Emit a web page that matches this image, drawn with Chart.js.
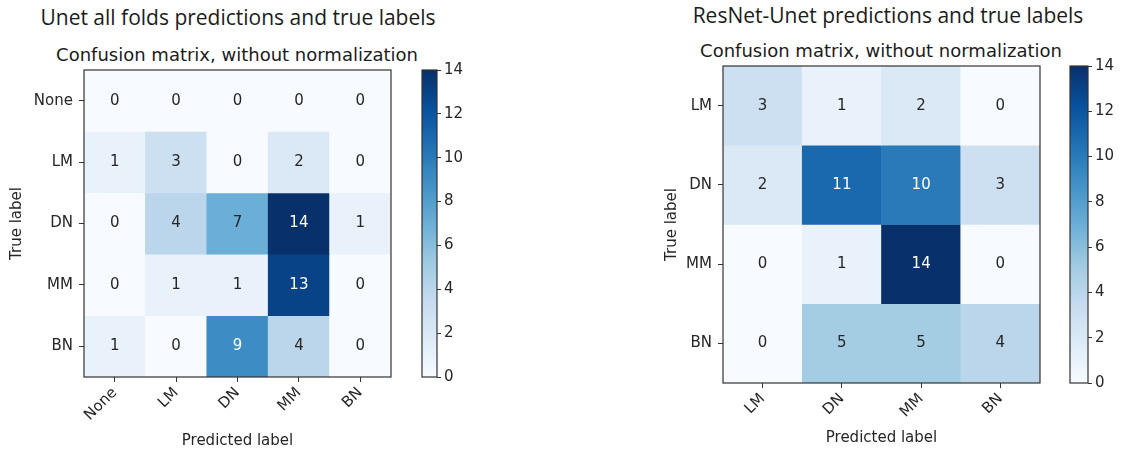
<!DOCTYPE html>
<html>
<head>
<meta charset="utf-8">
<script src="https://cdn.jsdelivr.net/npm/chart.js@4/dist/chart.umd.min.js"></script>
<style>
  html, body { margin: 0; padding: 0; background: #ffffff; }
  body { width: 1123px; height: 450px; position: relative; overflow: hidden; }
  .box { position: absolute; }
  .txt { position: absolute; text-align: center; white-space: nowrap; color: #1c1c1c; }
  .head { font-family: "Open Sans", "Noto Sans", sans-serif; font-size: 21px; line-height: 26px; }
  .sub { font-family: "DejaVu Sans", sans-serif; font-size: 18px; line-height: 22px; }
</style>
</head>
<body>
<div class="txt head" style="left:-12px; top:4px; width:500px;">Unet all folds predictions and true labels</div>
<div class="txt sub" style="left:-13px; top:44px; width:500px;">Confusion matrix, without normalization</div>
<div class="txt head" style="left:638px; top:2px; width:500px;">ResNet-Unet predictions and true labels</div>
<div class="txt sub" style="left:631px; top:40px; width:500px;">Confusion matrix, without normalization</div>

<div class="box" style="left:0px; top:0px; width:410px; height:450px;"><canvas id="unetMatrix"></canvas></div>
<div class="box" style="left:415px; top:0px; width:65px; height:450px;"><canvas id="unetBar"></canvas></div>
<div class="box" style="left:630px; top:0px; width:430px; height:450px;"><canvas id="resMatrix"></canvas></div>
<div class="box" style="left:1063px; top:0px; width:60px; height:450px;"><canvas id="resBar"></canvas></div>

<script>
// ---- Unet (all folds): rows = true label, columns = predicted label ----
const unetLabels = ['None', 'LM', 'DN', 'MM', 'BN'];
const unetRowNone = [0, 0, 0, 0, 0];
const unetRowLM   = [1, 3, 0, 2, 0];
const unetRowDN   = [0, 4, 7, 14, 1];
const unetRowMM   = [0, 1, 1, 13, 0];
const unetRowBN   = [1, 0, 9, 4, 0];

// ---- ResNet-Unet: rows = true label, columns = predicted label ----
const resLabels = ['LM', 'DN', 'MM', 'BN'];
const resRowLM = [3, 1, 2, 0];
const resRowDN = [2, 11, 10, 3];
const resRowMM = [0, 1, 14, 0];
const resRowBN = [0, 5, 5, 4];

// colour scale range and colourbar ticks
const colorMin = 0;
const colorMax = 14;
const colorbarTicks = [0, 2, 4, 6, 8, 10, 12, 14];

// matplotlib "Blues" anchor colours
const BLUES = ['#f7fbff', '#deebf7', '#c6dbef', '#9ecae1', '#6baed6',
               '#4292c6', '#2171b5', '#08519c', '#08306b'];

function hexToRgb(h) {
  return [parseInt(h.slice(1, 3), 16), parseInt(h.slice(3, 5), 16), parseInt(h.slice(5, 7), 16)];
}
function blues(t) {
  t = Math.max(0, Math.min(1, t));
  const pos = t * (BLUES.length - 1);
  const i = Math.min(Math.floor(pos), BLUES.length - 2);
  const f = pos - i;
  const a = hexToRgb(BLUES[i]), b = hexToRgb(BLUES[i + 1]);
  const c = a.map((v, k) => Math.round(v + (b[k] - v) * f));
  return 'rgb(' + c[0] + ',' + c[1] + ',' + c[2] + ')';
}

const TEXT = '#262626';
const FRAME = '#333333';
const FONT = 'DejaVu Sans';

// frame around the plotting area
const framePlugin = {
  id: 'frame',
  afterDraw(chart) {
    const a = chart.chartArea, ctx = chart.ctx;
    ctx.save();
    ctx.strokeStyle = FRAME;
    ctx.lineWidth = 1.2;
    ctx.strokeRect(a.left, a.top, a.right - a.left, a.bottom - a.top);
    ctx.restore();
  }
};

// count written in the middle of each cell
const cellTextPlugin = {
  id: 'cellText',
  afterDatasetsDraw(chart) {
    const ctx = chart.ctx;
    const thresh = colorMax / 2;
    ctx.save();
    ctx.font = '15px "' + FONT + '"';
    ctx.textAlign = 'center';
    ctx.textBaseline = 'middle';
    chart.data.datasets.forEach((ds, di) => {
      const meta = chart.getDatasetMeta(di);
      meta.data.forEach((el, i) => {
        const v = ds.data[i].v;
        ctx.fillStyle = v > thresh ? '#ffffff' : TEXT;
        ctx.fillText(String(v), el.x, (el.y + el.base) / 2);
      });
    });
    ctx.restore();
  }
};

function matrixChart(id, labels, rows, geo) {
  const datasets = rows.map((row, r) => ({
    data: row.map((v, c) => ({ x: labels[c], y: [r, r + 1], v: v })),
    backgroundColor: (ctx) => blues((ctx.raw.v - colorMin) / (colorMax - colorMin)),
    borderWidth: 0,
    grouped: false,
    barPercentage: 1,
    categoryPercentage: 1
  }));
  return new Chart(document.getElementById(id), {
    type: 'bar',
    data: { labels: labels, datasets: datasets },
    options: {
      responsive: true,
      maintainAspectRatio: false,
      animation: false,
      events: [],
      layout: { padding: { left: 0, top: geo.top, right: geo.right, bottom: 0 } },
      plugins: { legend: { display: false }, tooltip: { enabled: false } },
      scales: {
        x: {
          type: 'category',
          offset: true,
          grid: { offset: false, drawOnChartArea: false, drawTicks: true, tickLength: 5, color: FRAME, lineWidth: 1 },
          border: { display: false },
          ticks: { autoSkip: false, minRotation: 45, maxRotation: 45, padding: 2, color: TEXT, font: { family: FONT, size: 15 } },
          title: { display: true, text: 'Predicted label', color: TEXT, font: { family: FONT, size: 15 }, padding: { top: 0, bottom: geo.xTitlePad } },
          afterFit(s) { s.height = geo.xHeight; }
        },
        y: {
          type: 'linear',
          min: 0,
          max: labels.length,
          reverse: true,
          afterBuildTicks(s) { s.ticks = labels.map((_, i) => ({ value: i + 0.5 })); },
          grid: { drawOnChartArea: false, drawTicks: true, tickLength: 5, color: FRAME, lineWidth: 1 },
          border: { display: false },
          ticks: { autoSkip: false, padding: 6, color: TEXT, font: { family: FONT, size: 15 },
                   callback: (val, idx) => labels[idx] },
          title: { display: true, text: 'True label', color: TEXT, font: { family: FONT, size: 15 }, padding: { top: geo.yTitlePad, bottom: 0 } },
          afterFit(s) { s.width = geo.yWidth; }
        }
      }
    },
    plugins: [framePlugin, cellTextPlugin]
  });
}

function colorbarChart(id, geo) {
  return new Chart(document.getElementById(id), {
    type: 'bar',
    data: {
      labels: ['scale'],
      datasets: [{
        data: [[colorMin, colorMax]],
        backgroundColor: (c) => {
          const a = c.chart.chartArea;
          if (!a) return BLUES[0];
          const g = c.chart.ctx.createLinearGradient(0, a.bottom, 0, a.top);
          BLUES.forEach((col, i) => g.addColorStop(i / (BLUES.length - 1), col));
          return g;
        },
        borderWidth: 0,
        barPercentage: 1,
        categoryPercentage: 1
      }]
    },
    options: {
      responsive: true,
      maintainAspectRatio: false,
      animation: false,
      events: [],
      layout: { padding: { left: geo.left, top: geo.top, right: 0, bottom: geo.bottom } },
      plugins: { legend: { display: false }, tooltip: { enabled: false } },
      scales: {
        x: { display: false },
        y: {
          position: 'right',
          min: colorMin,
          max: colorMax,
          afterBuildTicks(s) { s.ticks = colorbarTicks.map(v => ({ value: v })); },
          grid: { drawOnChartArea: false, drawTicks: true, tickLength: 4, color: FRAME },
          border: { display: false },
          ticks: { padding: 3, color: TEXT, font: { family: FONT, size: 15 } },
          afterFit(s) { s.width = geo.yWidth; }
        }
      }
    },
    plugins: [framePlugin]
  });
}

matrixChart('unetMatrix', unetLabels,
  [unetRowNone, unetRowLM, unetRowDN, unetRowMM, unetRowBN],
  { top: 70, right: 19, xHeight: 73, yWidth: 84, xTitlePad: 0, yTitlePad: 8 });
colorbarChart('unetBar', { left: 7, top: 70, bottom: 73, yWidth: 43 });

matrixChart('resMatrix', resLabels,
  [resRowLM, resRowDN, resRowMM, resRowBN],
  { top: 66, right: 20, xHeight: 67, yWidth: 93, xTitlePad: 3, yTitlePad: 33 });
colorbarChart('resBar', { left: 7, top: 66, bottom: 67, yWidth: 35 });
</script>
</body>
</html>
